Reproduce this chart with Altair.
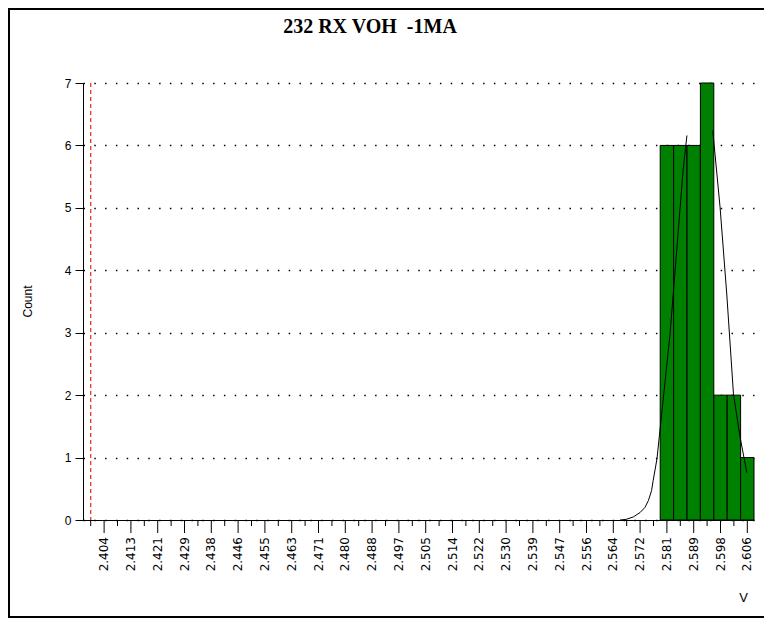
import altair as alt
import pandas as pd

title_text = "232 RX VOH\u00a0 -1MA"
y_title = "Count"
x_title = "V"

# histogram bins (centres) and counts
bin_centers = [2.580815, 2.58502, 2.589225, 2.59343, 2.597635, 2.60184, 2.606045]
counts = [6, 6, 6, 7, 2, 2, 1]
bin_width = 0.004205

# fitted curve (two visible branches)
curve_x = [2.5661, 2.5680, 2.5703, 2.5724, 2.5739, 2.5750, 2.5760, 2.5765, 2.5777,
           2.5818, 2.5859, 2.5871,
           2.5952, 2.5975, 2.5996, 2.6017, 2.6038, 2.6059]
curve_y = [0.0, 0.01, 0.05, 0.12, 0.20, 0.31, 0.47, 0.63, 0.98,
           2.98, 5.6, 6.16,
           6.24, 5.01, 3.62, 2.02, 1.32, 0.76]
curve_seg = ["left"] * 12 + ["right"] * 6

# lower spec limit
lsl = [2.4]

# axis ticks
major_ticks = [2.404205, 2.412615, 2.421025, 2.429435, 2.437845, 2.446255, 2.454665,
               2.463075, 2.471485, 2.479895, 2.488305, 2.496715, 2.505125, 2.513535,
               2.521945, 2.530355, 2.538765, 2.547175, 2.555585, 2.563995, 2.572405,
               2.580815, 2.589225, 2.597635, 2.606045]
major_labels = ["2.404", "2.413", "2.421", "2.429", "2.438", "2.446", "2.455", "2.463",
                "2.471", "2.480", "2.488", "2.497", "2.505", "2.514", "2.522", "2.530",
                "2.539", "2.547", "2.556", "2.564", "2.572", "2.581", "2.589", "2.598",
                "2.606"]
minor_ticks = [2.4000, 2.40841, 2.41682, 2.42523, 2.43364, 2.44205, 2.45046, 2.45887,
               2.46728, 2.47569, 2.4841, 2.49251, 2.50092, 2.50933, 2.51774, 2.52615,
               2.53456, 2.54297, 2.55138, 2.55979, 2.5682, 2.57661, 2.58502, 2.59343, 2.60184]
y_ticks = [0, 1, 2, 3, 4, 5, 6, 7]
x_domain = [2.39758, 2.6081475]
y_domain = [0, 7]

W, H = 671, 437

bars = pd.DataFrame({
    "start": [c - bin_width / 2 for c in bin_centers],
    "end": [c + bin_width / 2 for c in bin_centers],
    "count": counts,
})
curve = pd.DataFrame({"v": curve_x, "c": curve_y, "seg": curve_seg})
minor = pd.DataFrame({"v": minor_ticks})
major = pd.DataFrame({"v": major_ticks, "lab": major_labels})
limit = pd.DataFrame({"v": lsl})
one = pd.DataFrame({"a": [0]})

xscale = alt.Scale(domain=x_domain, nice=False, zero=False)
yscale = alt.Scale(domain=y_domain, nice=False)

x_axis = alt.Axis(
    values=major_ticks, labels=False, ticks=False, grid=False,
    domainColor="#000000",
    title=x_title, titleFont="Liberation Sans", titleFontSize=13, titleFontWeight="normal",
    titleX=660, titleY=77, titleAlign="center", titleBaseline="middle", titleAngle=0,
)
y_axis = alt.Axis(
    values=y_ticks, format="d", tickSize=8, labelPadding=4, labelFont="Liberation Sans",
    labelFontSize=12, labelColor="#000000", tickColor="#000000", domainColor="#000000",
    grid=True, gridColor="#000000", gridDash=[1.5, 9.3], gridWidth=1.3,
    title=y_title, titleFont="Liberation Sans", titleFontSize=12, titleFontWeight="normal",
    titleX=-56, titleY=218, titleAngle=270, titleAlign="center", titleBaseline="middle",
)

bar_layer = alt.Chart(bars).mark_rect(color="#008000", stroke="#000000", strokeWidth=1).encode(
    x=alt.X("start:Q", scale=xscale, axis=x_axis),
    x2="end:Q",
    y=alt.Y("count:Q", scale=yscale, axis=y_axis),
    y2=alt.datum(0),
)

curve_layer = alt.Chart(curve).mark_line(color="#000000", strokeWidth=1).encode(
    x=alt.X("v:Q", scale=xscale),
    y=alt.Y("c:Q", scale=yscale),
    detail="seg:N",
)

minor_layer = alt.Chart(minor).mark_rule(color="#000000", strokeWidth=1).encode(
    x=alt.X("v:Q", scale=xscale),
    y=alt.value(H),
    y2=alt.value(H + 6),
)

major_tick_layer = alt.Chart(major).mark_rule(color="#000000", strokeWidth=1).encode(
    x=alt.X("v:Q", scale=xscale),
    y=alt.value(H),
    y2=alt.value(H + 13),
)

major_label_layer = alt.Chart(major).mark_text(
    angle=270, align="right", baseline="middle", font="DejaVu Sans", fontSize=12,
    color="#000000",
).encode(
    x=alt.X("v:Q", scale=xscale),
    y=alt.value(H + 17),
    text="lab:N",
)

limit_layer = alt.Chart(limit).mark_rule(color="#ee3322", strokeWidth=1.3, strokeDash=[4, 3]).encode(
    x=alt.X("v:Q", scale=xscale),
    y=alt.value(0),
    y2=alt.value(H),
)

title_layer = alt.Chart(one).mark_text(
    font="Liberation Serif", fontSize=20, fontWeight="bold", color="#000000",
    align="center", baseline="middle",
).encode(x=alt.value(287), y=alt.value(-56), text=alt.value(title_text))

frame = alt.Chart(one).mark_rect(fillOpacity=0, stroke="#000000", strokeWidth=2).encode(
    x=alt.value(-74), x2=alt.value(720), y=alt.value(-74), y2=alt.value(534),
)

chart = alt.layer(
    bar_layer, curve_layer, minor_layer, major_tick_layer, major_label_layer,
    limit_layer, title_layer, frame,
).properties(
    width=W, height=H,
    autosize=alt.AutoSizeParams(type="none"),
    padding={"left": 75, "top": 75, "right": 10, "bottom": 98},
).configure_view(strokeWidth=0)

chart.save("out.html", embed_options={"renderer": "svg", "actions": False})
